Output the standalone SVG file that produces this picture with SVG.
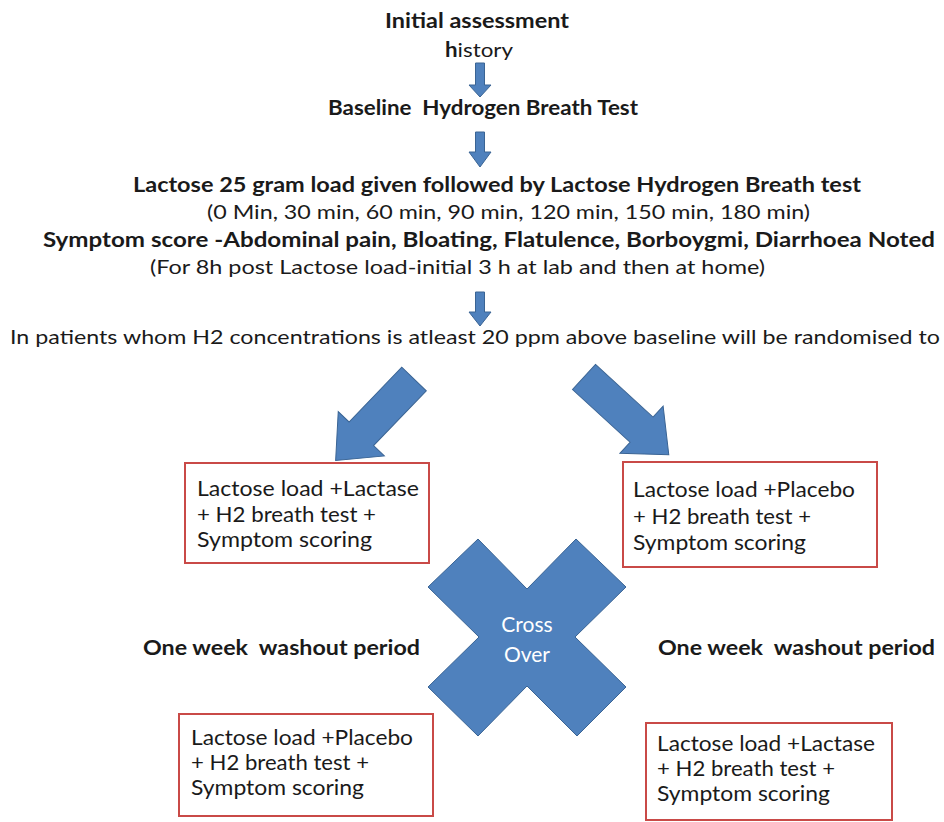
<svg xmlns="http://www.w3.org/2000/svg" width="944" height="822" viewBox="0 0 944 822">
<style>
.t{font-family:Lato,"Open Sans","Liberation Sans",sans-serif;fill:#1a1a1a;font-size:20px;white-space:pre}
.b{font-weight:bold}
.bx{font-size:21px}
.box{fill:#fff;stroke:#C94A47;stroke-width:2}
.arr{fill:#4F81BD;stroke:#3A6494;stroke-width:1}
.co{font-family:Lato,"Open Sans","Liberation Sans",sans-serif;fill:#fff;font-size:21px;text-anchor:middle}
</style>
<rect width="944" height="822" fill="#fff"/>
<g id="connectors">
<polygon class="arr" points="475.5,63 484.5,63 484.5,85 491,85 480,97 469,85 475.5,85"/>
<polygon class="arr" points="475.5,132 484.5,132 484.5,152 491,152 480,167 469,152 475.5,152"/>
<polygon class="arr" points="475.5,292 484.5,292 484.5,312 491,312 480,326 469,312 475.5,312"/>
<polygon class="arr" transform="translate(414,379) rotate(133.9)" points="0,-17 76,-17 76,-32 113,0 76,32 76,17 0,17"/>
<polygon class="arr" transform="translate(584,377) rotate(42.5)" points="0,-17 78,-17 78,-32 115,0 78,32 78,17 0,17"/>
</g>
<g id="initial">
<text class="t b" x="385" y="28" textLength="184" lengthAdjust="spacingAndGlyphs">Initial assessment</text>
<text class="t" x="445" y="57" textLength="68" lengthAdjust="spacingAndGlyphs"><tspan class="b">h</tspan>istory</text>
</g>
<g id="baseline">
<text class="t b" x="328" y="115" textLength="310" lengthAdjust="spacingAndGlyphs">Baseline  Hydrogen Breath Test</text>
</g>
<g id="lactose-test">
<text class="t b" x="133" y="192" textLength="728" lengthAdjust="spacingAndGlyphs">Lactose 25 gram load given followed by Lactose Hydrogen Breath test</text>
<text class="t" x="207" y="219" textLength="603" lengthAdjust="spacingAndGlyphs">(0 Min, 30 min, 60 min, 90 min, 120 min, 150 min, 180 min)</text>
<text class="t b" x="43" y="247" textLength="892" lengthAdjust="spacingAndGlyphs">Symptom score -Abdominal pain, Bloating, Flatulence, Borboygmi, Diarrhoea Noted</text>
<text class="t" x="150" y="274" textLength="615" lengthAdjust="spacingAndGlyphs">(For 8h post Lactose load-initial 3 h at lab and then at home)</text>
</g>
<g id="randomise">
<text class="t" x="10" y="344" textLength="930" lengthAdjust="spacingAndGlyphs">In patients whom H2 concentrations is atleast 20 ppm above baseline will be randomised to</text>
</g>
<g id="box1">
<rect class="box" x="185" y="463" width="244" height="100"/>
<text class="t bx" x="197" y="496" textLength="222" lengthAdjust="spacingAndGlyphs">Lactose load +Lactase</text>
<text class="t bx" x="197" y="522" textLength="179" lengthAdjust="spacingAndGlyphs">+ H2 breath test +</text>
<text class="t bx" x="197" y="547" textLength="175" lengthAdjust="spacingAndGlyphs">Symptom scoring</text>
</g>
<g id="box2">
<rect class="box" x="623" y="462" width="254" height="105"/>
<text class="t bx" x="633" y="497" textLength="222" lengthAdjust="spacingAndGlyphs">Lactose load +Placebo</text>
<text class="t bx" x="633" y="524" textLength="178" lengthAdjust="spacingAndGlyphs">+ H2 breath test +</text>
<text class="t bx" x="633" y="550" textLength="173" lengthAdjust="spacingAndGlyphs">Symptom scoring</text>
</g>
<g id="crossover">
<polygon class="arr" points="478,539 527,589 576,539 626,587 575,637 626,687 577,736 527,686 478,736 428,687 479,637 428,587"/>
<text class="co" x="527" y="632">Cross</text>
<text class="co" x="527" y="662">Over</text>
</g>
<g id="washout-left">
<text class="t b" x="143" y="655" textLength="277" lengthAdjust="spacingAndGlyphs">One week  washout period</text>
</g>
<g id="washout-right">
<text class="t b" x="658" y="655" textLength="277" lengthAdjust="spacingAndGlyphs">One week  washout period</text>
</g>
<g id="box3">
<rect class="box" x="179" y="714" width="254" height="102"/>
<text class="t bx" x="191" y="745" textLength="222" lengthAdjust="spacingAndGlyphs">Lactose load +Placebo</text>
<text class="t bx" x="191" y="770" textLength="178" lengthAdjust="spacingAndGlyphs">+ H2 breath test +</text>
<text class="t bx" x="191" y="795" textLength="173" lengthAdjust="spacingAndGlyphs">Symptom scoring</text>
</g>
<g id="box4">
<rect class="box" x="646" y="723" width="246" height="97"/>
<text class="t bx" x="657" y="751" textLength="218" lengthAdjust="spacingAndGlyphs">Lactose load +Lactase</text>
<text class="t bx" x="657" y="776" textLength="178" lengthAdjust="spacingAndGlyphs">+ H2 breath test +</text>
<text class="t bx" x="657" y="801" textLength="173" lengthAdjust="spacingAndGlyphs">Symptom scoring</text>
</g>
</svg>
